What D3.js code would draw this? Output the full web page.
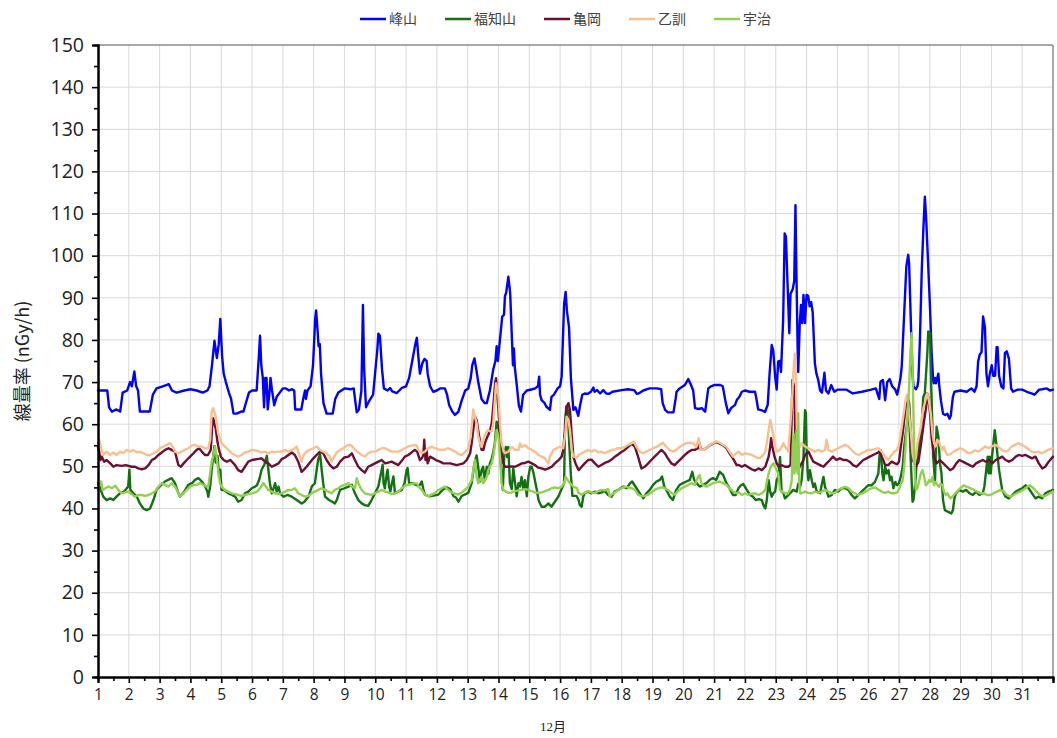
<!DOCTYPE html>
<html>
<head>
<meta charset="utf-8">
<script src="https://cdn.jsdelivr.net/npm/d3@7"></script>
<style>
  html, body { margin: 0; padding: 0; background: #fff; }
  svg { display: block; }
</style>
</head>
<body>
<svg id="chart" width="1057" height="738"></svg>
<script>
// ---------- DATA ----------
const seriesNames = ["峰山", "福知山", "亀岡", "乙訓", "宇治"];
const seriesColors = ["#0000ff", "#137013", "#6d0f35", "#f9c08f", "#92d050"];
const yTickValues = [0,10,20,30,40,50,60,70,80,90,100,110,120,130,140,150];
const dayLabels = [1,2,3,4,5,6,7,8,9,10,11,12,13,14,15,16,17,18,19,20,21,22,23,24,25,26,27,28,29,30,31];
const xAxisTitle = "12月";
const yAxisTitle = "線量率 (nGy/h)";

// [day (fractional, 1 = Dec 1 00:00), dose rate nGy/h]
const mineyama = [
[1.00,68],[1.30,68],[1.36,64],[1.45,63],[1.60,63.5],[1.72,63],[1.80,67.5],[1.95,68],[2.04,70],[2.10,69],[2.18,72.5],[2.24,69],[2.30,68],[2.36,63],[2.50,63],[2.68,63],[2.78,67],[2.90,68.5],[3.10,69],[3.30,69.5],[3.40,68],[3.55,67.5],[3.80,68],[4.00,68.3],[4.20,68],[4.40,67.5],[4.55,68],[4.62,69],[4.70,74],[4.78,79.8],[4.86,75.7],[4.92,79],[4.97,85],[5.03,76],[5.08,72],[5.15,70],[5.25,67.5],[5.32,66],[5.40,62.5],[5.50,62.5],[5.65,63],[5.72,63],[5.80,65],[5.90,67.5],[6.00,68],
[6.15,68],[6.22,76],[6.26,81],[6.30,74],[6.35,71],[6.39,64],[6.43,71],[6.47,71],[6.51,63.5],[6.56,67],[6.60,71],[6.65,68],[6.72,64.5],[6.80,66.5],[6.90,67.5],[7.00,68.5],[7.10,68.5],[7.20,68],[7.30,68.3],[7.37,68],[7.40,63.5],[7.60,63.5],[7.66,66],[7.72,68],[7.75,66],[7.80,68],[7.90,69],[7.98,74],[8.05,85],[8.08,87],[8.13,82],[8.16,78.5],[8.20,79],[8.24,72],[8.32,65],[8.42,62.5],[8.62,62.5],[8.70,66],[8.80,67.5],[9.00,68.5],[9.20,68.3],[9.30,68.5],[9.36,65],[9.40,62.8],[9.47,63.5],[9.55,68],[9.60,88.3],[9.64,73],[9.70,64],[9.80,65.5],[9.93,67],[10.00,72.5],[10.07,78],[10.10,81.5],[10.15,81],[10.22,73],[10.28,68.5],[10.40,68],[10.48,68.6],[10.55,67.8],[10.70,67.4],[10.86,68.6],[11.00,69],[11.10,71],[11.20,75],[11.30,79],[11.35,80.5],[11.40,76],[11.45,72],[11.53,74.5],[11.60,75.5],[11.67,75],[11.70,72],[11.78,69],[11.88,67.7],[12.00,68],[12.10,68.5],[12.26,68.5],[12.33,67],[12.40,64.5],[12.50,63],[12.59,62.2],[12.70,63],[12.81,65.7],[12.92,68],[13.02,68.5],[13.10,71],[13.15,74],[13.22,75.6],[13.28,73],[13.35,69.7],[13.45,66],[13.55,65],[13.62,65],[13.72,68],[13.83,73],[13.90,75],[13.94,78.5],[13.98,75],[14.02,78],[14.12,85.5],[14.18,86],[14.21,90.4],[14.25,91.2],[14.32,95],[14.36,92.5],[14.38,91],[14.43,81.5],[14.47,74],[14.50,78],[14.53,73.5],[14.59,69.5],[14.66,64.5],[14.73,63],[14.80,67],[14.92,68],[15.10,68.3],[15.19,68.5],[15.28,69],[15.32,71.3],[15.35,67],[15.40,65.7],[15.50,65],[15.55,64.2],[15.67,63.4],[15.72,66.5],[15.80,67],[15.92,68.5],[16.00,69],[16.05,71.3],[16.13,88.6],[16.18,91.4],[16.22,87],[16.29,83],[16.35,71],[16.43,63.4],[16.50,64],[16.59,62],[16.65,64.5],[16.72,67],[16.80,67.3],[16.90,67.2],[17.00,67.7],[17.08,68.7],[17.12,67.7],[17.20,68.1],[17.30,67.3],[17.40,68.1],[17.50,67.3],[17.60,67.2],[17.70,67.7],[18.00,68.1],[18.20,68.3],[18.40,68.1],[18.49,67.2],[18.55,67.3],[18.70,68],[18.90,68.5],[19.15,68.5],[19.28,68.3],[19.33,65],[19.41,63.4],[19.50,62.8],[19.68,62.8],[19.75,66],[19.78,67.7],[19.88,68.5],[20.05,69.3],[20.16,70.7],[20.25,69.3],[20.32,68],[20.38,63.8],[20.50,63.6],[20.60,63.8],[20.71,63],[20.81,68.5],[20.90,69],[21.00,69.3],[21.20,69.3],[21.28,69],[21.38,65],[21.46,62.6],[21.55,63.8],[21.68,64.6],[21.74,65.8],[21.82,66.5],[21.90,67.7],[22.00,68],[22.15,67.7],[22.33,67.7],[22.38,65.7],[22.43,63.5],[22.55,63.3],[22.65,62.9],[22.74,64.6],[22.80,72],[22.87,78.8],[22.92,77.5],[22.98,71.3],[23.03,68.2],[23.08,74.9],[23.13,75],[23.17,72.4],[23.24,84.7],[23.29,105.3],[23.33,104.5],[23.38,94],[23.44,81.6],[23.48,91],[23.55,92],[23.60,94],[23.64,112],[23.67,96.5],[23.71,78.4],[23.73,72.4],[23.78,84],[23.82,88.3],[23.86,84],[23.90,90.7],[23.95,84],[24.00,90.7],[24.05,90.5],[24.10,88],[24.15,89],[24.20,86.5],[24.27,74.5],[24.32,72],[24.38,70.5],[24.44,68],[24.50,67.5],[24.58,72.2],[24.63,68],[24.71,67.3],[24.80,69.3],[24.90,67.7],[25.00,68.2],[25.30,68.2],[25.50,67.3],[25.80,67.7],[26.10,68.2],[26.25,68.5],[26.30,67.3],[26.36,66],[26.40,70.1],[26.48,70.5],[26.55,65.7],[26.62,70],[26.70,70.7],[26.78,69],[26.88,68.2],[26.94,67],[27.00,69],[27.05,71],[27.09,73.7],[27.17,86.4],[27.24,97.5],[27.30,100.2],[27.33,98],[27.39,83.2],[27.44,72],[27.47,69],[27.55,68.3],[27.60,69],[27.63,70.5],[27.68,80],[27.74,96.6],[27.79,106],[27.84,114],[27.88,109.3],[27.95,97.5],[28.01,87.2],[28.06,77],[28.11,70.5],[28.13,69.7],[28.17,71],[28.20,69.7],[28.28,72],[28.30,69.7],[28.36,65.7],[28.43,62.5],[28.50,62.2],[28.57,62.5],[28.64,61.3],[28.68,62],[28.75,66.5],[28.80,67.7],[29.00,68],[29.20,67.7],[29.35,68.5],[29.45,67.7],[29.52,69],[29.57,74.9],[29.62,76.5],[29.68,77.1],[29.73,85.6],[29.79,83],[29.84,72],[29.89,69],[29.95,72],[30.01,74],[30.06,71.5],[30.12,71.5],[30.17,78.3],[30.20,78.3],[30.25,71.5],[30.32,69],[30.39,68.5],[30.44,76.9],[30.50,77.3],[30.57,75.5],[30.64,68.5],[30.70,67.7],[30.85,68.2],[31.00,68.2],[31.15,67.7],[31.30,67.3],[31.40,67],[31.55,68.2],[31.65,68.3],[31.80,68.5],[31.90,68],[32.00,68.2]
];

const fukuchiyama = [
[1.00,46],[1.06,45],[1.17,42.8],[1.28,42],[1.40,42.4],[1.50,42],[1.60,42.8],[1.71,43.6],[1.85,44],[1.98,45.2],[2.02,49.2],[2.05,44.4],[2.15,43.6],[2.26,42.8],[2.36,41.2],[2.47,40],[2.58,39.6],[2.69,40],[2.80,42],[2.90,44.4],[3.00,45.2],[3.17,46.4],[3.28,46.8],[3.39,47.2],[3.50,46],[3.61,43.6],[3.66,42.8],[3.80,44],[3.93,45.6],[4.05,46],[4.15,46.8],[4.26,47.2],[4.37,46.4],[4.48,45.2],[4.55,44],[4.58,42.8],[4.64,45.2],[4.69,49.2],[4.78,54.8],[4.82,50.9],[4.88,52.5],[4.93,47.6],[4.97,49.2],[5.01,44.4],[5.10,44.4],[5.23,43.6],[5.35,43.2],[5.45,42.8],[5.55,41.6],[5.66,42],[5.77,43.6],[5.88,44],[5.99,44.8],[6.10,45.2],
[6.16,45.5],[6.24,47],[6.31,49.2],[6.40,50.4],[6.48,52.5],[6.53,49.2],[6.58,46],[6.64,43.6],[6.70,44.8],[6.75,46],[6.80,44],[6.86,45.2],[6.91,43.6],[7.02,42.8],[7.15,43.2],[7.29,42.8],[7.45,42],[7.61,41.2],[7.70,41.6],[7.83,42.8],[7.94,45.2],[8.04,46],[8.10,49.2],[8.15,51.7],[8.21,52.9],[8.26,49.2],[8.31,46],[8.37,42.8],[8.50,42],[8.60,41.6],[8.69,41.2],[8.75,42],[8.86,44.4],[9.00,44.8],[9.13,45.2],[9.24,45.6],[9.34,43.6],[9.45,42],[9.56,41.2],[9.66,40.8],[9.77,40.6],[9.88,42],[9.99,43.6],[10.10,45.2],[10.21,49.2],[10.24,50.4],[10.27,46],[10.31,44.8],[10.37,48],[10.40,49.2],[10.45,45.2],[10.49,44],[10.53,45.6],[10.59,47.6],[10.64,43.6],[10.75,44],[10.86,44.4],[10.95,46],[11.02,49.2],[11.05,49.6],[11.10,46],[11.20,46],[11.36,45.5],
[11.45,45.6],[11.51,46.4],[11.56,44.6],[11.61,43.3],[11.75,42.9],[11.94,43.1],[12.05,43.3],[12.21,44.6],[12.32,45],[12.43,44.6],[12.54,42.9],[12.62,42.6],[12.70,41.6],[12.80,42.9],[12.90,43.3],[13.02,43.7],[13.13,46],[13.22,50.7],[13.29,52.6],[13.34,49.9],[13.40,46.4],[13.45,49.1],[13.50,49.9],[13.56,46.7],[13.62,49.9],[13.67,48.3],[13.72,50.7],[13.78,51.8],[13.83,53.4],[13.88,55.4],[13.94,60.6],[14.00,59.4],[14.05,53.8],[14.10,47.5],[14.14,44.4],[14.19,53],[14.24,54.6],[14.28,52.2],[14.32,54.6],[14.37,46],[14.43,44.6],[14.48,49.5],[14.54,46],[14.59,42.9],[14.65,46],[14.70,45.2],[14.75,47.5],[14.81,44.6],[14.86,46.7],[14.92,42.9],[14.97,47.5],[15.03,49.9],[15.08,49.9],[15.14,48.3],[15.20,46],[15.24,44.6],[15.30,42],[15.35,41.2],[15.40,40.4],[15.50,40.4],[15.62,41.2],[15.72,40.4],[15.83,41.6],[15.95,42.9],[16.05,44.6],[16.13,46],[16.16,60],[16.20,64.2],[16.25,63.4],[16.30,55],[16.35,48],[16.40,43],[16.53,43],
[16.60,42],[16.64,40.8],[16.70,40.4],[16.75,42.8],[16.80,43.6],[16.90,44],[17.02,43.6],[17.13,44],[17.24,43.6],[17.35,43.8],[17.45,44.2],[17.56,43.2],[17.67,42.8],[17.77,44],[17.88,44.4],[18.05,45.2],[18.16,44.8],[18.27,46],[18.34,46.4],[18.48,44.8],[18.59,43.6],[18.70,42.4],[18.80,43.6],[18.91,44.4],[19.02,45.6],[19.13,46.4],[19.24,46.8],[19.31,47.6],[19.38,45.2],[19.45,44.4],[19.56,42.8],[19.66,42],[19.77,44.4],[19.88,45.6],[19.99,46],[20.10,46.4],[20.21,46.8],[20.29,48.7],[20.35,46.8],[20.43,46],[20.53,45.2],[20.64,45.6],[20.75,46],[20.86,46.8],[20.96,47.2],[21.07,46.8],[21.18,48.7],[21.24,48.3],[21.29,48],[21.40,46],[21.50,44.8],[21.61,43.2],[21.70,43.2],
[21.79,44.8],[21.87,45.5],[21.95,45.8],[22.06,44.4],[22.17,43.2],[22.26,42.8],[22.35,42],[22.45,42.2],[22.55,42],[22.60,40.8],[22.66,40],[22.71,42],[22.77,46.7],[22.82,44],[22.87,42.8],[22.92,43.6],[22.98,44],[23.03,46.7],[23.08,47.5],[23.14,52.2],[23.19,44],[23.25,43.6],[23.30,42.4],[23.36,42.8],[23.46,43.6],[23.57,44.4],[23.68,44],[23.73,45.9],[23.79,45.1],[23.84,46.7],[23.90,52.2],[23.95,63.3],[23.98,62.6],[24.00,54.6],[24.04,48.3],[24.06,46.7],[24.11,49.1],[24.17,46.7],[24.22,45.1],[24.27,45.9],[24.33,44],[24.44,43.6],[24.49,45.5],[24.55,47.5],[24.60,45.1],[24.66,44],[24.71,42.8],[24.82,43.2],[24.92,44.4],[25.03,44],[25.14,44.8],[25.25,44.8],[25.36,44.4],[25.46,43.2],[25.57,42.4],[25.68,43.2],[25.79,44],[25.90,44.8],[26.00,45.5],[26.11,45.5],[26.22,46.3],[26.33,48.3],[26.38,53.8],[26.41,53.8],[26.46,48.3],[26.50,46.7],[26.55,49.9],[26.60,48.3],[26.66,49.1],[26.71,46.7],[26.76,47.5],[26.82,44.8],[26.88,46.3],[26.94,45.5],
[27.00,46],[27.06,47.5],[27.12,49.9],[27.17,54.7],[27.22,57.8],[27.28,61],[27.33,62.6],[27.38,52],[27.44,41.6],[27.47,42],[27.53,46],[27.58,51.5],[27.68,56.3],[27.74,60],[27.79,66.5],[27.84,67.3],[27.92,76.8],[27.95,82],[28.01,81.6],[28.04,70.5],[28.08,61],[28.11,52.3],[28.17,46.7],[28.22,59.4],[28.28,57],[28.33,50.7],[28.38,48.3],[28.43,42],[28.49,39.6],[28.60,39.2],[28.70,38.8],[28.75,39.6],[28.80,42.4],[28.85,43.6],[28.96,44.4],[29.07,44],[29.18,44.4],[29.29,43.6],[29.40,43.2],[29.50,44],[29.61,43.2],[29.72,43.6],[29.77,45.1],[29.82,48.3],[29.88,52.3],[29.91,48.3],[29.95,52.3],[29.98,48.3],[30.03,53],[30.11,58.6],[30.17,54.7],[30.25,49.1],[30.30,46.7],[30.35,44.4],[30.46,42.8],[30.57,42.4],[30.68,43.2],[30.79,44],[30.89,44.4],[31.00,44.8],[31.11,45.5],[31.21,44.8],[31.32,43.6],[31.43,42.4],[31.54,42.8],[31.65,42.4],[31.75,43.6],[31.86,44],[32.00,44.4]
];

const kameoka = [
[1.00,54.5],[1.03,53.9],[1.08,51.5],[1.12,52.3],[1.20,51.1],[1.28,51.5],[1.40,50.7],[1.50,49.9],[1.60,50.3],[1.77,50.1],[1.90,50.3],[2.09,49.9],[2.20,49.9],[2.31,49.5],[2.42,49.3],[2.53,49.5],[2.64,50.3],[2.75,51.5],[2.85,51.9],[2.96,52.7],[3.07,53.3],[3.18,53.9],[3.29,54.3],[3.39,53.9],[3.50,53.5],[3.55,52],[3.61,50.3],[3.69,49.9],[3.78,50.7],[3.88,51.5],[3.99,52.3],[4.10,53.1],[4.20,53.9],[4.28,54.3],[4.37,53.5],[4.47,52.7],[4.57,52.7],[4.66,53.9],[4.72,61],[4.74,61.4],[4.82,59],[4.88,55.7],[4.93,53.9],[4.99,52.3],[5.08,51.5],[5.18,51.1],[5.30,51.5],[5.45,50.3],[5.55,49.1],[5.66,48.7],[5.77,49.9],[5.88,51.1],[6.00,51.5],
[6.16,51.7],[6.31,51.9],[6.42,51.1],[6.53,50.7],[6.64,49.9],[6.75,50.3],[6.86,50.7],[6.96,51.7],[7.07,52.1],[7.18,52.7],[7.29,53.3],[7.39,52.7],[7.50,51.1],[7.61,48.7],[7.67,49.1],[7.77,49.9],[7.88,50.9],[7.99,51.9],[8.10,52.7],[8.21,53.5],[8.31,53.1],[8.42,51.5],[8.53,50.3],[8.64,49.5],[8.75,49.9],[8.86,51.1],[8.99,52.1],[9.13,52.3],[9.24,53.1],[9.34,51.5],[9.45,49.9],[9.56,49.1],[9.66,48.5],[9.77,49.9],[9.88,50.3],[9.99,50.7],[10.10,51.1],[10.21,51.5],[10.32,50.7],[10.42,50.9],[10.53,51.1],[10.64,50.7],[10.75,50.3],[10.86,51.3],[10.96,52.3],[11.07,52.7],[11.18,53.3],[11.28,53.9],[11.36,53.5],
[11.45,51.5],[11.52,52],[11.56,52.7],[11.59,56.3],[11.63,51.5],[11.67,53.9],[11.70,50.7],[11.78,52.3],[11.88,51.9],[11.99,51.4],[12.10,51.1],[12.21,50.7],[12.43,50.7],[12.64,50.3],[12.86,50.7],[12.97,51.5],[13.08,53.1],[13.13,55.5],[13.18,58.6],[13.24,61.8],[13.29,61],[13.34,58.6],[13.40,55.9],[13.45,53.9],[13.51,53.9],[13.56,55.5],[13.62,56.7],[13.67,57.5],[13.73,58.6],[13.78,60.2],[13.83,64.1],[13.89,69.7],[13.92,70.9],[13.95,68.1],[14.00,63.4],[14.05,57.1],[14.10,53.1],[14.16,50.7],[14.21,49.9],[14.32,49.9],[14.43,50],[14.54,49.9],[14.65,50.3],[14.76,50.7],[14.86,50.8],[14.97,51.1],[15.08,50.7],[15.18,50.3],[15.29,49.7],[15.40,49.5],[15.51,49.2],[15.62,49.5],[15.73,49.9],[15.83,50.7],[15.94,51.4],[16.05,52.3],[16.10,53.9],[16.16,58.6],[16.21,64.1],[16.27,65],[16.32,63.4],[16.38,57.1],[16.43,52.3],[16.50,50.7],[16.55,49.9],
[16.60,49.1],[16.70,49.9],[16.80,50.7],[16.91,51.5],[17.02,51.6],[17.13,50.7],[17.24,49.9],[17.34,50.3],[17.45,50.8],[17.56,51.1],[17.67,51.6],[17.78,52.3],[17.88,52.8],[17.99,53.4],[18.10,53.9],[18.21,54.6],[18.32,55.4],[18.43,54.6],[18.53,52.3],[18.64,49.5],[18.75,49.9],[18.86,50.7],[18.96,51.5],[19.07,52.3],[19.18,53.1],[19.29,53.9],[19.40,53.1],[19.50,51.9],[19.61,50.7],[19.72,50.3],[19.83,51.1],[19.94,51.9],[20.05,52.7],[20.16,53.4],[20.27,53.9],[20.37,53.9],[20.48,54.3],[20.53,55.4],[20.57,53.9],[20.64,53.9],[20.75,54.3],[20.86,55],[20.96,55.4],[21.07,55.8],[21.18,55.4],[21.29,55],[21.40,54.3],[21.50,53.1],[21.61,51.9],[21.73,50.3],
[21.80,50.3],[21.90,49.9],[22.00,50.3],[22.11,49.8],[22.22,49.3],[22.33,49],[22.44,49.5],[22.55,49.1],[22.66,49.9],[22.77,52.3],[22.82,54.7],[22.85,56.7],[22.89,54.7],[22.96,52.3],[23.03,50.7],[23.10,49.9],[23.19,50.3],[23.30,49.9],[23.41,49.9],[23.48,50.3],[23.52,62.6],[23.54,70.5],[23.60,68.9],[23.65,50.7],[23.71,49.1],[23.78,49.9],[23.84,50.7],[23.90,51.5],[23.95,52.7],[24.00,53.1],[24.06,53.5],[24.14,52.3],[24.22,51.1],[24.33,50.7],[24.44,50.3],[24.55,49.9],[24.65,50.7],[24.76,51.5],[24.86,52.3],[24.97,51.5],[25.08,51.9],[25.19,51.5],[25.30,51.5],[25.40,51.1],[25.51,50.3],[25.62,49.9],[25.73,50.7],[25.84,51.5],[25.95,51.9],[26.05,52.3],[26.16,52.7],[26.27,53.1],[26.38,53.5],[26.44,52.3],[26.49,51.5],[26.55,50.3],[26.65,50.3],[26.76,51.1],[26.87,50.7],[26.94,50.5],
[27.00,51.1],[27.06,54.7],[27.12,57.8],[27.17,61],[27.22,64.2],[27.28,66.5],[27.33,65],[27.39,57],[27.45,51.5],[27.55,50],[27.63,51],[27.71,55],[27.80,60],[27.88,64],[27.92,67.3],[27.95,66.5],[28.01,62.6],[28.06,56.9],[28.14,52.3],[28.22,50.7],[28.33,51.5],[28.44,50.7],[28.55,49.9],[28.66,49.1],[28.76,49.5],[28.86,50.7],[28.96,51.5],[29.07,51.1],[29.18,50.7],[29.29,50.3],[29.40,49.9],[29.50,50.7],[29.61,51.1],[29.72,51.5],[29.82,51.1],[29.92,51.5],[30.03,50.7],[30.14,51.5],[30.25,51.9],[30.35,52.3],[30.46,51.5],[30.57,51.1],[30.68,51.5],[30.79,52.3],[30.89,52.7],[31.00,52.5],[31.11,52.7],[31.21,52.3],[31.32,51.9],[31.43,52.3],[31.54,50.7],[31.65,49.5],[31.75,49.9],[31.86,51.1],[32.00,52.3]
];

const otokuni = [
[1.00,55],[1.04,56.3],[1.08,55],[1.12,53.9],[1.17,52.7],[1.28,53.5],[1.39,52.7],[1.50,53.3],[1.61,52.7],[1.72,53.5],[1.82,53.1],[1.93,53.9],[2.04,53.5],[2.15,53.9],[2.26,53.3],[2.36,53.5],[2.47,53.1],[2.58,52.7],[2.69,52.7],[2.80,53.1],[2.90,53.5],[3.01,54.3],[3.12,54.7],[3.23,55.1],[3.34,55.5],[3.42,54.7],[3.50,53.5],[3.61,53.1],[3.72,53.5],[3.82,53.9],[3.93,54.3],[4.04,54.9],[4.15,55.1],[4.26,54.7],[4.37,54.7],[4.47,54.3],[4.58,54.3],[4.64,56.3],[4.69,63],[4.74,63.8],[4.82,61.8],[4.90,57.9],[5.01,55.5],[5.12,54.7],[5.23,53.9],[5.34,53.1],[5.45,52.7],[5.55,52.3],[5.66,52.7],[5.77,53.3],[5.88,53.5],[5.99,53.9],
[6.16,53.7],[6.31,53.3],[6.42,53.5],[6.53,53.1],[6.64,53.5],[6.75,53.3],[6.86,53.5],[6.96,53.5],[7.07,53.9],[7.18,53.5],[7.29,53.9],[7.39,54.3],[7.45,54.7],[7.50,53.5],[7.61,51.1],[7.67,52.7],[7.77,53.5],[7.88,53.9],[7.99,54.3],[8.10,54.7],[8.21,53.9],[8.31,53.5],[8.42,53.1],[8.53,52.3],[8.58,51.1],[8.64,51.9],[8.75,53.3],[8.86,53.9],[8.96,54.3],[9.07,54.9],[9.18,55.1],[9.26,54.7],[9.34,53.9],[9.45,53.3],[9.56,52.7],[9.66,52.3],[9.77,53.1],[9.88,53.5],[9.99,53.5],[10.10,53.9],[10.21,54.3],[10.32,54.3],[10.42,53.9],[10.53,53.5],[10.64,53.5],[10.75,53.5],[10.86,53.9],[10.96,54.3],[11.07,54.7],[11.18,54.9],[11.29,55.1],[11.36,54.8],
[11.40,53.9],[11.51,53.1],[11.61,53.5],[11.72,54.3],[11.83,54.6],[11.94,54.3],[12.05,54],[12.15,53.9],[12.26,54],[12.37,54.3],[12.48,53.9],[12.59,53.5],[12.70,52.9],[12.81,52.7],[12.91,53.3],[13.02,54.3],[13.10,57.1],[13.18,63.5],[13.24,61.8],[13.29,60.2],[13.34,57.1],[13.40,55.5],[13.45,54.6],[13.51,56.3],[13.56,57.5],[13.62,58.3],[13.67,58.6],[13.72,58.3],[13.78,58.3],[13.83,60.2],[13.89,66.5],[13.92,69.7],[13.95,68.9],[14.00,66.5],[14.05,60.2],[14.10,55.5],[14.16,53.9],[14.21,53.1],[14.32,53.5],[14.43,54.6],[14.54,53.9],[14.65,53.9],[14.70,55.5],[14.75,54.6],[14.86,55.1],[14.97,54.3],[15.08,53.9],[15.18,53.5],[15.29,52.7],[15.40,52.3],[15.51,51.9],[15.62,50.7],[15.67,52.3],[15.78,53.9],[15.89,54.3],[15.99,54.6],[16.10,54.3],[16.16,57.1],[16.21,61.8],[16.27,61],[16.32,58.6],[16.38,53.9],[16.43,52.3],[16.55,52.1],
[16.60,52.7],[16.70,53.1],[16.80,53.5],[16.91,53.9],[17.02,53.5],[17.13,53.9],[17.24,53.3],[17.34,53.5],[17.45,53.1],[17.56,53.5],[17.67,53.9],[17.78,54],[17.88,54.3],[17.99,54.3],[18.10,54.6],[18.21,55.1],[18.32,55.5],[18.40,55.9],[18.48,54.6],[18.59,53.5],[18.70,53.1],[18.80,53.5],[18.91,53.9],[19.02,54.3],[19.13,54.6],[19.24,55.1],[19.34,55.6],[19.45,54.6],[19.55,53.9],[19.66,53.5],[19.77,53.9],[19.88,54.6],[19.99,55.1],[20.10,55.5],[20.21,55.6],[20.32,55.5],[20.42,54.6],[20.50,56.7],[20.56,53.9],[20.64,53.9],[20.75,54.3],[20.86,55.1],[20.96,55.5],[21.07,55.9],[21.18,55.6],[21.29,55.1],[21.40,54.6],[21.50,53.5],[21.61,52.3],[21.70,53],
[21.79,53.5],[21.90,52.7],[22.00,53.1],[22.11,52.9],[22.22,52.7],[22.33,52.3],[22.44,51.9],[22.55,52.3],[22.66,53.5],[22.71,55.5],[22.77,58.6],[22.82,61],[22.87,59.4],[22.93,57],[22.98,54.7],[23.03,53.5],[23.14,53.9],[23.25,55.5],[23.30,54.7],[23.41,53.5],[23.46,58.6],[23.52,64.2],[23.57,72.1],[23.62,76.8],[23.66,70.5],[23.69,57],[23.73,53.9],[23.84,55.5],[23.95,54.7],[24.06,54.3],[24.17,53.9],[24.27,53.5],[24.38,53.9],[24.49,53.5],[24.60,53.9],[24.65,56.3],[24.71,53.9],[24.82,53.5],[24.92,53.9],[25.03,54.3],[25.14,54.7],[25.25,55.1],[25.36,54.7],[25.46,53.9],[25.57,53.1],[25.68,52.7],[25.79,53.1],[25.90,53.5],[26.00,53.9],[26.11,53.9],[26.22,54.1],[26.33,54.3],[26.44,53.5],[26.55,52.3],[26.65,51.5],[26.76,52.7],[26.85,53.5],[26.94,53.9],
[27.01,55.5],[27.06,57.8],[27.09,59.4],[27.17,63.3],[27.22,66],[27.26,67],[27.30,65],[27.33,62.6],[27.39,57.8],[27.44,53.1],[27.50,50.7],[27.55,52.3],[27.60,55.5],[27.71,59.4],[27.76,62.6],[27.81,64.2],[27.86,65.7],[27.92,67.3],[27.97,65.7],[28.03,62.6],[28.09,57.8],[28.14,55.5],[28.19,54.7],[28.24,56.3],[28.30,55.9],[28.35,54.7],[28.41,53.9],[28.46,54.7],[28.51,53.5],[28.57,52.7],[28.67,52.9],[28.78,53.5],[28.88,53.9],[28.99,54.3],[29.10,53.9],[29.26,53.1],[29.37,53.3],[29.47,53.8],[29.58,53.5],[29.69,54.1],[29.80,54.7],[29.90,54.3],[30.01,54.7],[30.12,55.1],[30.22,54.7],[30.33,53.9],[30.44,53.5],[30.55,53.8],[30.66,54.7],[30.77,55.1],[30.88,55.5],[30.98,55.1],[31.09,54.7],[31.20,54.1],[31.30,53.5],[31.41,53.3],[31.52,53.5],[31.63,53.1],[31.74,53.5],[31.84,53.9],[32.00,54.3]
];

const uji = [
[1.00,44.5],[1.03,45.2],[1.10,46.4],[1.15,44.4],[1.24,44.8],[1.34,45.2],[1.45,44.8],[1.56,45.4],[1.66,44.4],[1.77,43.6],[1.88,43.8],[1.98,44],[2.09,43.4],[2.20,42.8],[2.31,43.2],[2.42,43.2],[2.53,43],[2.64,43.2],[2.75,43.6],[2.85,44],[2.96,45.2],[3.07,46],[3.18,45.6],[3.29,45.2],[3.39,46],[3.50,45.2],[3.61,43.6],[3.66,42.8],[3.77,43.6],[3.88,44.4],[3.99,45.2],[4.10,45.6],[4.20,45.6],[4.31,46],[4.42,45.6],[4.53,45.2],[4.58,45.2],[4.64,48.4],[4.69,51.1],[4.74,52.3],[4.80,54.7],[4.85,52.3],[4.90,49.1],[4.96,46],[5.01,45.2],[5.12,44.4],[5.23,44],[5.34,43.6],[5.45,43.4],[5.55,43.2],[5.66,43],[5.77,43.2],[5.88,43.4],[6.00,43.6],
[6.16,44],[6.26,44.8],[6.37,46],[6.45,45.2],[6.53,44.4],[6.64,44],[6.75,43.6],[6.86,43.4],[6.96,43.6],[7.07,44],[7.18,44.4],[7.29,44.4],[7.39,44.8],[7.50,43.6],[7.61,43.2],[7.72,42.8],[7.83,43],[7.94,43.6],[8.04,44],[8.15,44.4],[8.26,44.8],[8.37,44.4],[8.48,44],[8.58,43.6],[8.69,44.4],[8.80,44.8],[8.91,45.4],[9.02,45.6],[9.13,46],[9.24,45.2],[9.34,44.8],[9.40,47.2],[9.45,46],[9.56,44.4],[9.66,43.6],[9.77,43.4],[9.88,43.2],[9.99,43.6],[10.10,44],[10.21,44.4],[10.32,44],[10.42,43.8],[10.53,43.4],[10.64,43.6],[10.75,44],[10.86,44.8],[10.96,45.4],[11.07,45.6],[11.18,45.8],[11.29,46],[11.36,45.9],
[11.40,45.2],[11.51,44.4],[11.61,43.3],[11.72,42.9],[11.83,43.3],[11.94,43.7],[12.05,44.4],[12.15,44.8],[12.26,45.2],[12.37,44.4],[12.48,43.8],[12.59,43.5],[12.70,43.3],[12.81,43.8],[12.91,44.4],[13.02,45.2],[13.13,46.7],[13.18,49.1],[13.24,51.5],[13.29,47.5],[13.34,46],[13.40,46.7],[13.45,47.5],[13.51,46],[13.56,46.7],[13.62,47.5],[13.67,49.1],[13.72,49.9],[13.78,50.7],[13.83,52.3],[13.89,55.4],[13.94,58.6],[14.00,57],[14.05,52.3],[14.10,46],[14.16,44.4],[14.21,44.1],[14.32,43.7],[14.43,43.8],[14.54,44.1],[14.65,44.3],[14.76,44.4],[14.86,44.6],[14.97,44.4],[15.08,44.1],[15.18,43.8],[15.29,43.7],[15.40,43.8],[15.51,44.1],[15.62,44.4],[15.73,44.8],[15.83,45],[15.94,44.8],[16.05,45.2],[16.13,46],[16.18,47.5],[16.25,46.7],[16.32,46],[16.43,45.2],[16.55,44.8],
[16.59,43.7],[16.70,43.3],[16.80,43.7],[16.91,44.1],[17.02,43.8],[17.13,43.7],[17.24,44.1],[17.34,44.4],[17.45,44.3],[17.56,44.6],[17.61,42.9],[17.67,43.3],[17.78,43.8],[17.88,44.4],[17.99,44.8],[18.10,45.2],[18.21,45],[18.32,44.8],[18.43,44.4],[18.53,43.3],[18.64,42.9],[18.75,43],[18.86,43.3],[18.96,43.8],[19.07,44.4],[19.18,44.8],[19.29,45],[19.40,44.8],[19.50,44.4],[19.61,43.7],[19.72,43.3],[19.83,44.1],[19.94,44.8],[20.05,45.2],[20.16,45.6],[20.26,46],[20.37,45.6],[20.48,47.5],[20.53,47.9],[20.59,46],[20.64,45.6],[20.75,45.2],[20.86,45.6],[20.96,46],[21.07,46.2],[21.18,46.4],[21.29,46],[21.40,45.6],[21.50,44.8],[21.61,44.1],[21.73,43.6],
[21.80,43.8],[21.90,43.2],[22.00,43.6],[22.11,43.2],[22.22,43.5],[22.33,43.6],[22.44,43.2],[22.55,43.6],[22.66,44.4],[22.71,46.3],[22.77,48.3],[22.82,49.5],[22.87,50.3],[22.93,50.7],[22.98,49.9],[23.03,49.1],[23.08,48.3],[23.14,44.4],[23.20,44],[23.30,43.6],[23.40,43.6],[23.46,44.4],[23.52,46.7],[23.55,54.7],[23.58,57.8],[23.60,48.3],[23.63,49.1],[23.66,54.7],[23.68,58.6],[23.71,48.3],[23.73,62.6],[23.76,46.7],[23.79,43.6],[23.84,43.6],[23.95,44],[24.06,43.7],[24.17,43.6],[24.27,44],[24.38,43.7],[24.49,44],[24.60,44.4],[24.71,44],[24.82,43.6],[24.92,43.7],[25.03,44.4],[25.14,44.8],[25.25,45.1],[25.36,44.8],[25.46,44],[25.57,43.6],[25.68,43.2],[25.79,43.5],[25.90,44],[26.00,44.4],[26.11,44.8],[26.22,45],[26.33,44.5],[26.44,44],[26.55,43.7],[26.65,44],[26.76,43.6],[26.85,43.6],[26.94,43.8],
[27.01,44.8],[27.12,46.7],[27.17,49.9],[27.22,55.4],[27.28,62.6],[27.33,68.9],[27.37,76.8],[27.41,81.6],[27.45,70.5],[27.49,54.7],[27.52,46.7],[27.55,44.4],[27.60,44.8],[27.66,46.7],[27.71,48.3],[27.76,49.1],[27.82,47.5],[27.87,45.5],[27.93,45.9],[27.98,46.7],[28.04,46.3],[28.09,47.5],[28.14,45.5],[28.19,46.3],[28.25,45.5],[28.30,45.1],[28.35,45.9],[28.41,45.5],[28.46,44],[28.52,43.2],[28.57,43.6],[28.63,42.8],[28.68,42.4],[28.78,43.2],[28.88,44],[28.99,44.8],[29.10,45.5],[29.21,45.1],[29.32,44.8],[29.43,44.4],[29.54,44],[29.64,43.6],[29.75,43.6],[29.86,43.2],[29.96,43.2],[30.07,43.6],[30.18,44],[30.29,44.4],[30.40,44],[30.50,43.2],[30.61,42.8],[30.72,43.2],[30.82,43.6],[30.93,44],[31.04,44.4],[31.15,45.1],[31.26,45.5],[31.37,44.8],[31.47,44],[31.58,43.2],[31.69,42.8],[31.80,43.2],[31.90,43.6],[32.00,44]
];

const seriesData = [mineyama, fukuchiyama, kameoka, otokuni, uji];

// ---------- LAYOUT ----------
const svg = d3.select("#chart");
const plotL = 98, plotR = 1053, plotT = 45, plotB = 677;
const x = d3.scaleLinear().domain([1, 32]).range([plotL, plotR]);
const y = d3.scaleLinear().domain([0, 150]).range([plotB, plotT]);
const tickFont = "'Open Sans', 'Noto Sans', sans-serif";

// gridlines
const grid = svg.append("g");
grid.selectAll("line.h").data(yTickValues.filter(v => v > 0 && v < 150)).join("line")
  .attr("class", "h")
  .attr("x1", plotL).attr("x2", plotR)
  .attr("y1", d => y(d)).attr("y2", d => y(d))
  .attr("stroke", "#d9d9d9").attr("stroke-width", 1);
grid.selectAll("line.v").data(dayLabels.filter(d => d > 1)).join("line")
  .attr("class", "v")
  .attr("x1", d => x(d)).attr("x2", d => x(d))
  .attr("y1", plotT).attr("y2", plotB)
  .attr("stroke", "#d9d9d9").attr("stroke-width", 1);

// frame top & right
svg.append("line").attr("x1", plotL).attr("x2", plotR).attr("y1", plotT).attr("y2", plotT)
  .attr("stroke", "#8c8c8c").attr("stroke-width", 1.5);
svg.append("line").attr("x1", plotR).attr("x2", plotR).attr("y1", plotT).attr("y2", plotB)
  .attr("stroke", "#8c8c8c").attr("stroke-width", 1.5);

// lines
const line = d3.line().x(d => x(d[0])).y(d => y(d[1]));
svg.append("g").selectAll("path").data(seriesData).join("path")
  .attr("d", d => line(d))
  .attr("fill", "none")
  .attr("stroke", (d, i) => seriesColors[i])
  .attr("stroke-width", 2.4)
  .attr("stroke-linejoin", "round")
  .attr("stroke-linecap", "round");

// y axis
const yAxis = svg.append("g").attr("transform", `translate(${plotL},0)`)
  .call(d3.axisLeft(y).tickValues(yTickValues).tickSize(6).tickPadding(8).tickFormat(d3.format("d")));
const yMinor = svg.append("g").attr("transform", `translate(${plotL},0)`)
  .call(d3.axisLeft(y).tickValues(d3.range(5, 150, 10)).tickSize(4).tickFormat(""));
// x axis
const xAxis = svg.append("g").attr("transform", `translate(0,${plotB})`)
  .call(d3.axisBottom(x).tickValues(dayLabels.concat([32])).tickSize(6).tickPadding(6)
    .tickFormat(d => dayLabels.includes(d) ? String(d) : ""));
const xMinor = svg.append("g").attr("transform", `translate(0,${plotB})`)
  .call(d3.axisBottom(x).tickValues(d3.range(1.5, 32, 1)).tickSize(4).tickFormat(""));

[yAxis, yMinor, xAxis, xMinor].forEach(g => {
  g.select(".domain").attr("stroke", "#000").attr("stroke-width", 2);
  g.selectAll(".tick line").attr("stroke", "#000").attr("stroke-width", 1.6);
});
yAxis.selectAll(".tick text").attr("font-family", tickFont).attr("font-size", 19.5).attr("fill", "#222");
xAxis.selectAll(".tick text").attr("font-family", tickFont).attr("font-size", 15.5).attr("fill", "#222");

// axis titles
svg.append("text")
  .attr("transform", `translate(29,${(plotT + plotB) / 2}) rotate(-90)`)
  .attr("text-anchor", "middle")
  .attr("font-family", "'Noto Sans CJK JP', 'Noto Sans', sans-serif")
  .attr("font-size", 18).attr("fill", "#222")
  .text(yAxisTitle);
svg.append("text")
  .attr("x", 553).attr("y", 731)
  .attr("text-anchor", "middle")
  .attr("font-family", "'Liberation Serif', 'Noto Sans CJK JP', serif")
  .attr("font-size", 13).attr("fill", "#222")
  .text(xAxisTitle);

// legend
const legend = svg.append("g");
let lx = 360;
seriesNames.forEach((name, i) => {
  legend.append("line").attr("x1", lx).attr("x2", lx + 26).attr("y1", 19).attr("y2", 19)
    .attr("stroke", seriesColors[i]).attr("stroke-width", 2.5);
  const t = legend.append("text").attr("x", lx + 29).attr("y", 24)
    .attr("font-family", "'Noto Sans CJK JP', sans-serif")
    .attr("font-size", 14).attr("fill", "#404040").text(name);
  lx += 29 + t.node().getComputedTextLength() + 28;
});
</script>
</body>
</html>
